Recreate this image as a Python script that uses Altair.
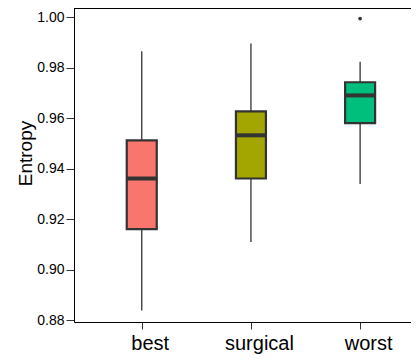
import altair as alt
import pandas as pd

categories = ["best", "surgical", "worst"]
whisker_low = [0.8840, 0.9111, 0.9340]
q1 = [0.9162, 0.9362, 0.9581]
median = [0.9362, 0.9533, 0.9691]
q3 = [0.9513, 0.9628, 0.9743]
whisker_high = [0.9866, 0.9896, 0.9824]
fill_colors = ["#F8766D", "#A3A500", "#00BF7D"]

outlier_cat = ["worst"]
outlier_val = [0.9995]

y_ticks = [0.88, 0.90, 0.92, 0.94, 0.96, 0.98, 1.00]

df = pd.DataFrame({
    "group": categories,
    "lo": whisker_low,
    "q1": q1,
    "med": median,
    "q3": q3,
    "hi": whisker_high,
})
out_df = pd.DataFrame({"group": outlier_cat, "val": outlier_val})

W, H = 345, 314

xscale = alt.Scale(type="point", domain=categories, padding=0.58, align=0.535)
yscale = alt.Scale(domain=[0.8794, 1.0037], nice=False, zero=False)

x_enc = alt.X("group:N", scale=xscale, sort=categories,
              axis=alt.Axis(title=None, labelAngle=0, labelFontSize=20,
                            labelColor="#000000", labelPadding=4, tickSize=7,
                            labelOffset=8,
                            tickColor="#333333", domainColor="#000000",
                            labelFont="Liberation Sans"))

base = alt.Chart(df)

whiskers = base.mark_rule(color="#333333", strokeWidth=1.3).encode(
    x=x_enc,
    y=alt.Y("lo:Q", scale=yscale,
            axis=alt.Axis(title="Entropy", values=y_ticks, format=".2f",
                          labelFontSize=14, labelColor="#000000",
                          labelFont="Liberation Sans",
                          tickSize=8, labelPadding=2, tickColor="#333333",
                          domainColor="#000000", grid=False,
                          titleFontSize=19, titleFont="Liberation Sans",
                          titleFontWeight="normal", titleColor="#000000",
                          titleX=-49, titleY=145, titleAngle=-90,
                          titleAlign="center", titleBaseline="middle")),
    y2="hi:Q",
)

boxes = base.mark_bar(size=30, stroke="#333333", strokeWidth=2.2).encode(
    x=alt.X("group:N", scale=xscale, sort=categories),
    y=alt.Y("q1:Q", scale=yscale),
    y2="q3:Q",
    fill=alt.Fill("group:N", scale=alt.Scale(domain=categories, range=fill_colors),
                  legend=None),
)

medians = base.mark_tick(size=31, thickness=4, color="#333333", opacity=1).encode(
    x=alt.X("group:N", scale=xscale, sort=categories),
    y=alt.Y("med:Q", scale=yscale),
)

outliers = alt.Chart(out_df).mark_circle(size=14, color="#333333", opacity=1).encode(
    x=alt.X("group:N", scale=xscale, sort=categories),
    y=alt.Y("val:Q", scale=yscale),
)

top_line = alt.Chart(df).mark_rule(color="#000000", strokeWidth=1).encode(
    x=alt.value(0), x2=alt.value(W), y=alt.value(0.5)
)

chart = alt.layer(whiskers, boxes, medians, outliers, top_line).properties(
    width=W, height=H,
    background="white",
    autosize=alt.AutoSizeParams(type="none"),
    padding={"left": 66, "top": 0, "right": -8, "bottom": 32},
).configure_view(stroke=None)

chart.save("out.html", embed_options={"renderer": "svg", "actions": False})
